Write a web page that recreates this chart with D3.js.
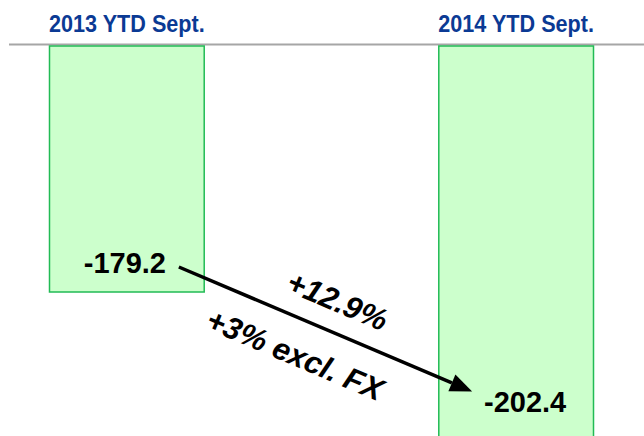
<!DOCTYPE html>
<html><head><meta charset="utf-8">
<script src="https://cdn.jsdelivr.net/npm/d3@7"></script>
<style>html,body{margin:0;padding:0;background:#fff;}svg{display:block;}</style>
</head><body>
<svg id="c" width="644" height="436"></svg>
<script>
const categories = ["2013 YTD Sept.", "2014 YTD Sept."];
const values = [-179.2, -202.4];
const valueLabels = ["-179.2", "-202.4"];
const changeLabels = ["+12.9%", "+3% excl. FX"];

const svg = d3.select("#c");
const W = 644, H = 436;
const x = d3.scaleBand().domain(categories).range([49, 594]).paddingInner(0.6).paddingOuter(0);
const y = d3.scaleLinear().domain([-140.5, -179.2]).range([46, 292]);
const base = y.range()[0];

// baseline
svg.append("line").attr("x1", 9).attr("x2", W).attr("y1", 44.5).attr("y2", 44.5)
  .attr("stroke", "#a6a6a6").attr("stroke-width", 2);

// headers
svg.selectAll("text.hdr").data(categories).join("text").attr("class", "hdr")
  .attr("transform", d => `translate(${x(d) + x.bandwidth() / 2},31.5) scale(0.9,1)`)
  .attr("text-anchor", "middle")
  .attr("font-family", "Liberation Sans, Arial, sans-serif")
  .attr("font-weight", "bold").attr("font-size", 24)
  .attr("fill", "#0b3a94").text(d => d);

// bars
svg.selectAll("rect.bar").data(values).join("rect").attr("class", "bar")
  .attr("x", (d, i) => x(categories[i]) + 0.5).attr("y", base)
  .attr("width", x.bandwidth() - 1).attr("height", d => y(d) - base)
  .attr("fill", "#ccffcc").attr("stroke", "#22bb55").attr("stroke-width", 1.5);

// value labels
const dxs = [-2, 9], dys = [-19, -27];
svg.selectAll("text.val").data(values).join("text").attr("class", "val")
  .attr("x", (d, i) => x(categories[i]) + x.bandwidth() / 2 + dxs[i])
  .attr("y", (d, i) => y(d) + dys[i])
  .attr("text-anchor", "middle")
  .attr("font-family", "Liberation Sans, Arial, sans-serif")
  .attr("font-weight", "bold").attr("font-size", 29).attr("fill", "#000")
  .text((d, i) => valueLabels[i]);

// arrow
const x0 = x(categories[0]) + x.bandwidth() / 2 + 52, y0 = y(values[0]) - 25;
const x1 = x(categories[1]) + x.bandwidth() / 2 - 44, y1 = y(values[1]) - 48;
const ang = Math.atan2(y1 - y0, x1 - x0);
const headLen = 22, headW = 9;
const bx = x1 - headLen * Math.cos(ang), by = y1 - headLen * Math.sin(ang);
svg.append("line").attr("x1", x0).attr("y1", y0).attr("x2", bx).attr("y2", by)
  .attr("stroke", "#000").attr("stroke-width", 3.5);
const px = -Math.sin(ang), py = Math.cos(ang);
svg.append("path")
  .attr("d", `M${x1},${y1}L${bx + px * headW},${by + py * headW}L${bx - px * headW},${by - py * headW}Z`)
  .attr("fill", "#000");

// change labels
const deg = ang * 180 / Math.PI;
const mx = (x0 + x1) / 2, my = (y0 + y1) / 2;
const offs = [{along: 0, perp: -20}, {along: -18, perp: 46}];
changeLabels.forEach((t, i) => {
  const cx = mx + offs[i].along * Math.cos(ang) + offs[i].perp * px;
  const cy = my + offs[i].along * Math.sin(ang) + offs[i].perp * py;
  svg.append("text")
    .attr("transform", `translate(${cx},${cy}) rotate(${deg})`)
    .attr("text-anchor", "middle")
    .attr("font-family", "Liberation Sans, Arial, sans-serif")
    .attr("font-weight", "bold").attr("font-style", "italic").attr("font-size", 31)
    .attr("fill", "#000").text(t);
});
</script>
</body></html>
